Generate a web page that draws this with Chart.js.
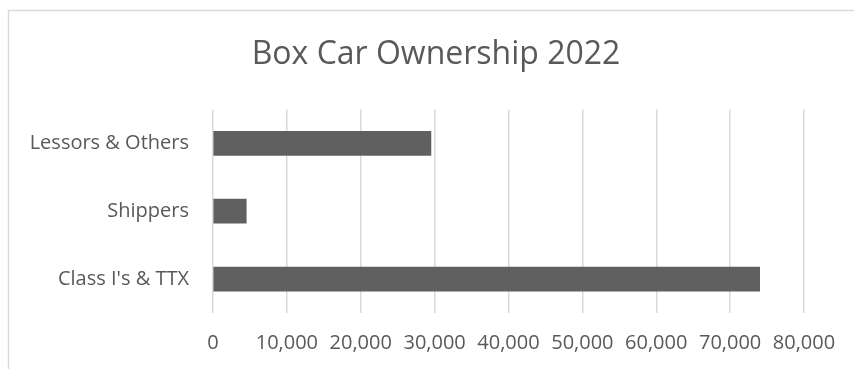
<!DOCTYPE html>
<html>
<head>
<meta charset="utf-8">
<title>Box Car Ownership 2022</title>
<script src="https://cdn.jsdelivr.net/npm/chart.js@4/dist/chart.umd.min.js"></script>
<style>
  html, body { margin: 0; padding: 0; background: #fff; }
  #wrap { width: 854px; height: 369px; position: relative; }
</style>
</head>
<body>
<div id="wrap"><canvas id="chart"></canvas></div>
<script>
"use strict";

// chart data
const owners = ["Lessors & Others", "Shippers", "Class I's & TTX"];
const boxCars = [29500, 4500, 74000];
const axisTicks = [0, 10000, 20000, 30000, 40000, 50000, 60000, 70000, 80000];

const textColor = "#595959";
const fontName = "'Open Sans', sans-serif";

// light grey frame around the chart, like the excel chart border
const framePlugin = {
  id: "frame",
  beforeDraw(chart) {
    const ctx = chart.ctx;
    ctx.save();
    ctx.strokeStyle = "#d9d9d9";
    ctx.lineWidth = 1.5;
    ctx.strokeRect(8.5, 10.5, 900, 400);
    ctx.restore();
  },
};

const data = {
  labels: owners,
  datasets: [
    {
      label: "Box cars",
      data: boxCars,
      backgroundColor: "#606060",
      borderWidth: 0,
      barThickness: 24,
    },
  ],
};

const config = {
  type: "bar",
  data: data,
  plugins: [framePlugin],
  options: {
    indexAxis: "y",
    responsive: true,
    maintainAspectRatio: false,
    animation: false,
    layout: { padding: { left: 18, right: 0, top: 0, bottom: 0 } },
    plugins: {
      legend: { display: false },
      tooltip: { enabled: false },
      title: {
        display: true,
        text: "Box Car Ownership 2022",
        color: textColor,
        font: { family: fontName, size: 32, weight: "normal", lineHeight: 1.2 },
        padding: { top: 36, bottom: 35 },
      },
    },
    scales: {
      x: {
        min: 0,
        max: 80000,
        afterBuildTicks(scale) {
          scale.ticks = axisTicks.map((v) => ({ value: v }));
        },
        afterFit(scale) {
          scale.height = 56;
        },
        grid: { color: "#d9d9d9", lineWidth: 1.5, drawTicks: false },
        border: { display: false },
        ticks: {
          autoSkip: false,
          maxRotation: 0,
          padding: 18,
          color: textColor,
          font: { family: fontName, size: 20 },
        },
      },
      y: {
        afterFit(scale) {
          scale.width = 195;
        },
        grid: { display: false, drawTicks: false },
        border: { display: false },
        ticks: {
          padding: 24,
          color: textColor,
          font: { family: fontName, size: 20 },
        },
      },
      // empty right-hand space so the plot ends where the reference does
      spacer: {
        type: "linear",
        axis: "y",
        position: "right",
        afterFit(scale) {
          scale.width = 50;
        },
        grid: { display: false, drawTicks: false },
        border: { display: false },
        ticks: { display: false },
      },
    },
  },
};

const boxChart = new Chart(document.getElementById("chart"), config);
</script>
</body>
</html>
